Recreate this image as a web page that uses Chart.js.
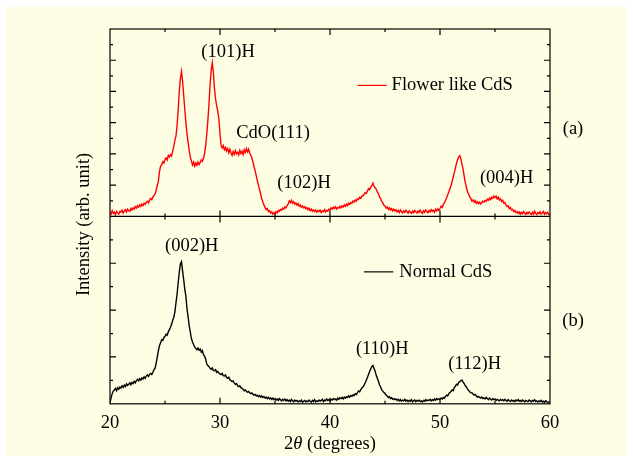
<!DOCTYPE html>
<html>
<head>
<meta charset="utf-8">
<title>XRD of CdS</title>
<script src="https://cdn.jsdelivr.net/npm/chart.js@4"></script>
<style>
  body { margin: 0; background: #ffffff; }
  #panel { position: absolute; left: 6px; top: 7px; width: 621px; height: 449px; background: #fdfde4; }
</style>
</head>
<body>
<div id="panel"><canvas id="xrd" width="621" height="449"></canvas></div>
<script>
// 2theta grid: 20 to 60 deg, every 0.1 deg
const startAngle = 20;
const angleStep = 0.1;

// (a) flower like CdS, one row per degree (20.0 ... 20.9, 21.0 ...)
const flowerCdS = [
  2.0, 1.2, 3.1, 1.6, 2.4, 0.8, 2.6, 1.9, 1.2, 2.7,
  2.2, 3.3, 1.8, 2.9, 3.6, 2.4, 3.9, 3.1, 2.7, 4.2,
  3.4, 4.6, 3.9, 5.2, 4.4, 5.7, 4.9, 6.1, 5.3, 6.6,
  5.8, 7.0, 6.4, 7.6, 8.1, 7.2, 8.8, 9.6, 8.9, 10.4,
  11.2, 12.0, 14.1, 16.5, 18.8, 24.0, 26.8, 27.4, 29.2, 28.5,
  30.4, 31.2, 30.1, 32.6, 31.8, 33.0, 32.2, 34.8, 37.5, 40.6,
  43.0, 48.5, 57.0, 66.8, 73.5, 77.4, 72.0, 64.5, 57.0, 50.2,
  44.0, 39.5, 35.2, 31.8, 29.6, 27.4, 29.0, 26.8, 28.5, 27.2,
  29.0, 27.6, 28.8, 30.2, 29.4, 31.0, 33.6, 37.8, 44.0, 51.5,
  60.0, 70.5, 78.0, 82.0, 76.5, 68.0, 62.5, 59.0, 56.0, 52.0,
  44.0, 38.0, 36.5, 37.8, 35.6, 36.8, 34.9, 36.2, 34.0, 35.8,
  33.8, 32.5, 34.6, 33.1, 35.0, 33.4, 34.2, 32.8, 35.2, 33.6,
  34.8, 33.0, 35.5, 34.1, 36.2, 34.4, 35.9, 33.8, 32.6, 31.0,
  29.0, 26.5, 24.2, 21.6, 19.0, 16.4, 14.2, 11.8, 9.4, 7.6,
  6.0, 4.8, 3.6, 4.2, 2.6, 3.1, 1.8, 2.4, 1.2, 2.0,
  1.4, 2.6, 1.9, 3.2, 2.7, 3.8, 3.3, 4.4, 3.9, 5.1,
  4.6, 5.8, 6.6, 8.2, 7.4, 8.6, 7.1, 7.8, 6.5, 7.2,
  6.0, 6.8, 5.4, 6.1, 4.9, 5.6, 4.6, 5.2, 4.1, 4.8,
  3.6, 4.3, 3.1, 3.9, 2.8, 3.5, 2.6, 3.4, 2.2, 3.2,
  2.6, 3.4, 2.1, 3.0, 2.5, 3.6, 2.4, 3.2, 2.8, 3.9,
  3.4, 4.6, 3.8, 4.9, 4.2, 5.2, 3.9, 4.8, 4.4, 5.4,
  4.6, 5.6, 5.0, 6.2, 5.4, 6.6, 5.8, 7.0, 6.4, 7.4,
  7.0, 8.2, 7.6, 8.8, 8.2, 9.4, 9.0, 10.2, 9.6, 10.8,
  11.0, 11.8, 12.6, 12.2, 13.6, 14.8, 14.2, 15.6, 16.4, 17.8,
  16.2, 15.4, 14.6, 13.0, 12.2, 10.4, 9.6, 8.0, 7.2, 6.0,
  5.6, 4.4, 5.0, 3.8, 4.6, 3.4, 4.2, 3.0, 3.8, 2.9,
  3.6, 2.4, 3.2, 2.0, 3.4, 2.6, 1.8, 3.0, 2.2, 3.3,
  2.5, 1.7, 3.0, 2.2, 1.6, 2.8, 2.0, 3.2, 2.4, 1.8,
  2.9, 2.1, 3.4, 2.3, 1.6, 3.0, 2.2, 3.5, 2.6, 1.9,
  3.1, 2.4, 3.6, 2.7, 3.3, 2.2, 3.8, 2.9, 4.0, 3.2,
  4.2, 5.4, 4.8, 6.4, 7.2, 8.6, 9.8, 11.6, 13.0, 14.8,
  16.4, 18.6, 21.0, 23.4, 25.8, 28.4, 30.2, 31.6, 32.4, 30.8,
  27.6, 25.2, 21.4, 18.0, 15.4, 13.2, 12.0, 10.4, 9.6, 8.2,
  8.8, 7.6, 8.4, 7.0, 7.8, 6.8, 7.6, 6.6, 7.4, 8.2,
  7.6, 8.6, 8.0, 9.2, 8.6, 9.8, 9.0, 10.2, 9.6, 10.8,
  10.0, 10.8, 9.4, 10.2, 8.8, 9.4, 8.0, 8.6, 7.0, 7.4,
  6.0, 5.2, 5.6, 4.2, 4.8, 3.4, 3.8, 2.6, 3.2, 2.0,
  2.6, 1.6, 2.4, 1.2, 2.2, 1.4, 2.6, 1.8, 1.0, 2.2,
  1.4, 2.4, 1.6, 1.0, 2.2, 1.2, 2.8, 1.6, 1.0, 2.0,
  1.5, 2.5, 1.2, 1.8, 2.6, 1.1, 2.0, 1.4, 2.2, 1.0,
  0.9
];

// (b) normal CdS
const normalCdS = [
  0.6, 3.2, 5.4, 6.8, 7.4, 8.2, 7.0, 8.6, 7.8, 9.0,
  8.4, 9.6, 8.8, 10.0, 9.2, 10.6, 9.8, 10.4, 11.2, 10.2,
  11.4, 10.8, 12.0, 11.2, 12.4, 13.0, 12.2, 13.4, 12.6, 13.8,
  13.2, 14.4, 13.6, 14.8, 15.4, 14.6, 15.8, 16.2, 15.6, 16.8,
  18.2, 19.0, 21.8, 25.0, 28.4, 31.0, 32.6, 34.2, 33.8, 35.4,
  36.0, 37.2, 36.6, 38.4, 39.6, 40.8, 42.4, 44.6, 46.2, 49.0,
  54.0, 58.6, 64.8, 70.2, 74.6, 75.8, 70.8, 66.2, 61.0, 57.4,
  50.8, 46.4, 41.6, 38.2, 34.8, 33.0, 31.6, 30.4, 29.6, 28.8,
  29.8, 28.6, 29.2, 27.6, 28.4, 26.2, 25.4, 23.8, 21.2, 20.4,
  19.8, 19.0, 18.4, 19.2, 17.8, 17.6, 18.2, 16.8, 17.2, 16.4,
  16.0, 15.6, 16.2, 15.0, 14.8, 15.4, 14.0, 13.6, 14.2, 12.8,
  12.4, 11.8, 12.2, 11.0, 10.4, 10.8, 9.6, 9.2, 9.6, 8.6,
  8.2, 7.8, 7.0, 7.4, 6.6, 6.2, 6.6, 5.8, 5.4, 5.8,
  5.0, 4.6, 5.0, 4.2, 4.6, 3.8, 4.4, 3.6, 4.2, 3.4,
  3.8, 3.0, 3.6, 2.8, 3.4, 2.6, 3.2, 2.4, 3.0, 2.2,
  2.8, 2.0, 2.6, 1.8, 2.8, 2.2, 1.6, 2.4, 1.8, 2.6,
  1.6, 2.2, 1.4, 2.0, 1.2, 2.4, 1.6, 1.0, 2.0, 1.4,
  1.8, 1.0, 1.6, 1.2, 2.0, 0.8, 1.4, 1.8, 1.0, 1.6,
  1.2, 2.0, 1.4, 0.9, 1.8, 1.2, 2.2, 1.0, 1.6, 1.3,
  2.0, 1.4, 1.8, 2.4, 1.2, 2.0, 1.6, 2.6, 1.8, 2.2,
  1.6, 2.4, 2.0, 2.8, 2.2, 2.6, 2.0, 3.0, 2.4, 3.2,
  2.8, 3.4, 2.6, 3.6, 3.0, 3.8, 3.4, 4.2, 3.6, 4.4,
  4.0, 4.8, 4.4, 5.4, 5.0, 6.0, 6.8, 6.4, 7.6, 8.4,
  9.0, 10.0, 11.2, 12.6, 14.0, 15.6, 17.2, 18.6, 19.8, 20.4,
  19.0, 17.4, 15.2, 13.6, 12.0, 10.2, 9.0, 7.6, 6.8, 6.0,
  5.6, 4.6, 4.2, 3.4, 3.8, 2.8, 3.2, 2.4, 2.8, 2.2,
  2.6, 1.8, 2.4, 1.6, 2.2, 1.4, 2.0, 1.6, 2.4, 1.4,
  2.0, 1.2, 1.8, 1.4, 2.2, 1.0, 1.6, 2.0, 1.2, 1.8,
  1.4, 2.0, 1.2, 1.6, 1.0, 1.8, 1.4, 2.2, 1.6, 2.0,
  1.8, 2.4, 1.6, 2.2, 1.8, 2.6, 2.0, 2.8, 2.2, 2.6,
  2.4, 3.0, 2.6, 3.4, 3.0, 4.0, 4.6, 4.2, 5.4, 6.0,
  6.6, 7.4, 7.0, 8.6, 9.4, 10.4, 10.0, 11.4, 11.8, 12.4,
  12.6, 11.6, 10.8, 9.6, 9.0, 7.8, 7.2, 6.4, 6.0, 5.8,
  5.2, 4.6, 5.0, 4.2, 3.6, 4.0, 3.4, 3.0, 3.6, 2.8,
  3.2, 2.6, 3.4, 2.8, 2.2, 3.0, 2.4, 2.0, 2.8, 2.2,
  2.6, 1.8, 2.4, 2.0, 1.6, 2.4, 1.8, 2.2, 1.6, 2.4,
  1.8, 1.4, 2.2, 1.6, 1.2, 2.0, 1.4, 1.8, 1.2, 2.0,
  1.6, 2.2, 1.4, 1.8, 1.2, 2.0, 1.6, 1.0, 1.8, 1.4,
  1.2, 2.0, 1.6, 1.0, 1.8, 1.4, 2.2, 1.2, 1.6, 1.0,
  1.6, 1.2, 1.8, 1.0, 1.4, 0.8, 1.6, 1.2, 0.8, 1.0,
  0.6
];

// peak labels: position in (2theta, panel intensity)
const peakLabels = [
  { text: "(101)H", panel: "yTop", at: 30.73, level: 87.6 },
  { text: "CdO(111)", panel: "yTop", at: 34.82, level: 44.6 },
  { text: "(102)H", panel: "yTop", at: 37.64, level: 17.7 },
  { text: "(004)H", panel: "yTop", at: 56.06, level: 20.4 },
  { text: "(002)H", panel: "yBottom", at: 27.43, level: 83.9 },
  { text: "(110)H", panel: "yBottom", at: 44.75, level: 29.2 },
  { text: "(112)H", panel: "yBottom", at: 53.15, level: 21.1 },
];
const legendSpots = [
  { panel: "yTop", from: 42.5, to: 45.15, textAt: 45.6, level: 69.9 },
  { panel: "yBottom", from: 43.09, to: 45.75, textAt: 46.3, level: 70.4 },
];
const panelTags = [
  { text: "(a)", panel: "yTop", level: 46.8 },
  { text: "(b)", panel: "yBottom", level: 44 },
];

const serif = '"Liberation Serif", "Times New Roman", serif';
const fontSize = 18.5;

function toPoints(values) {
  return values.map((v, i) => ({ x: startAngle + i * angleStep, y: v }));
}

const framePlugin = {
  id: "frame",
  afterDraw(chart) {
    const { ctx, chartArea, scales } = chart;
    const { left, right, top, bottom } = chartArea;
    const x = scales.x;
    const mid = scales.yTop.bottom;

    ctx.save();
    ctx.strokeStyle = "#000";
    ctx.lineWidth = 1.2;
    ctx.strokeRect(left, top, right - left, bottom - top);
    ctx.beginPath();
    ctx.moveTo(left, mid);
    ctx.lineTo(right, mid);

    // y ticks, inward on both sides
    [scales.yTop, scales.yBottom].forEach((s) => {
      s.ticks.forEach((t, i) => {
        if (t.value <= s.min + 1e-6 || t.value >= s.max - 1e-6) return;
        let len = i % 2 === 0 ? 6 : 3;
        let py = s.getPixelForValue(t.value);
        ctx.moveTo(left, py);
        ctx.lineTo(left + len, py);
        ctx.moveTo(right, py);
        ctx.lineTo(right - len, py);
      });
    });

    // x ticks: bottom, top and across the divider
    for (let v = x.min + 5; v < x.max; v += 5) {
      let len = v % 10 === 0 ? 6 : 3;
      let px = x.getPixelForValue(v);
      ctx.moveTo(px, bottom);
      ctx.lineTo(px, bottom - len);
      ctx.moveTo(px, top);
      ctx.lineTo(px, top + len);
      ctx.moveTo(px, mid - len);
      ctx.lineTo(px, mid + len);
    }
    ctx.stroke();

    ctx.fillStyle = "#000";
    ctx.font = `${fontSize}px ${serif}`;
    ctx.textBaseline = "middle";
    ctx.textAlign = "center";
    peakLabels.forEach((p) => {
      ctx.fillText(p.text, x.getPixelForValue(p.at), scales[p.panel].getPixelForValue(p.level));
    });
    panelTags.forEach((p) => {
      ctx.fillText(p.text, right + 23, scales[p.panel].getPixelForValue(p.level));
    });

    // legend, one per panel
    chart.data.datasets.forEach((ds, i) => {
      let spot = legendSpots[i];
      let py = scales[spot.panel].getPixelForValue(spot.level);
      ctx.strokeStyle = ds.borderColor;
      ctx.lineWidth = 1.2;
      ctx.beginPath();
      ctx.moveTo(x.getPixelForValue(spot.from), py);
      ctx.lineTo(x.getPixelForValue(spot.to), py);
      ctx.stroke();
      ctx.textAlign = "left";
      ctx.fillText(ds.label, x.getPixelForValue(spot.textAt), py);
    });

    // axis titles
    ctx.save();
    ctx.translate(left - 26, (top + bottom) / 2 + 8);
    ctx.rotate(-Math.PI / 2);
    ctx.textAlign = "center";
    ctx.fillText("Intensity (arb. unit)", 0, 0);
    ctx.restore();

    let parts = [
      { t: "2", f: `${fontSize}px ${serif}` },
      { t: "\u03b8", f: `italic ${fontSize}px ${serif}` },
      { t: " (degrees)", f: `${fontSize}px ${serif}` },
    ];
    let total = 0;
    parts.forEach((p) => {
      ctx.font = p.f;
      p.w = ctx.measureText(p.t).width;
      total += p.w;
    });
    let cx = (left + right) / 2 - total / 2;
    ctx.textAlign = "left";
    parts.forEach((p) => {
      ctx.font = p.f;
      ctx.fillText(p.t, cx, bottom + 40);
      cx += p.w;
    });
    ctx.restore();
  },
};

new Chart(document.getElementById("xrd"), {
  type: "line",
  data: {
    datasets: [
      {
        label: "Flower like CdS",
        data: toPoints(flowerCdS),
        yAxisID: "yTop",
        borderColor: "#ff0000",
        borderWidth: 1.4,
        pointRadius: 0,
        tension: 0,
      },
      {
        label: "Normal CdS",
        data: toPoints(normalCdS),
        yAxisID: "yBottom",
        borderColor: "#000000",
        borderWidth: 1.4,
        pointRadius: 0,
        tension: 0,
      },
    ],
  },
  options: {
    responsive: false,
    animation: false,
    layout: { padding: { left: 104, right: 77, top: 22, bottom: 14 } },
    plugins: { legend: { display: false }, tooltip: { enabled: false } },
    scales: {
      x: {
        type: "linear",
        min: 20,
        max: 60,
        ticks: { stepSize: 10, color: "#000", padding: 8, font: { family: serif, size: fontSize } },
        grid: { display: false, drawTicks: false },
        border: { display: false },
      },
      // stacked axes: the first one listed goes to the bottom
      yBottom: {
        type: "linear",
        position: "left",
        stack: "xrd",
        stackWeight: 1,
        min: 0,
        max: 100,
        ticks: { display: false, stepSize: 12.5 },
        grid: { display: false, drawTicks: false },
        border: { display: false },
      },
      yTop: {
        type: "linear",
        position: "left",
        stack: "xrd",
        stackWeight: 1,
        min: 0,
        max: 100,
        ticks: { display: false, stepSize: 100 / 12 },
        grid: { display: false, drawTicks: false },
        border: { display: false },
      },
    },
  },
  plugins: [framePlugin],
});
</script>
</body>
</html>
